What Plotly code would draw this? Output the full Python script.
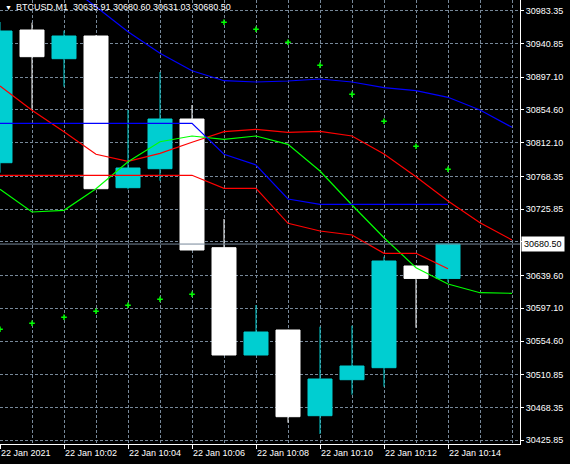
import plotly.graph_objects as go

# BTCUSD M1 bars, 22 Jan 2021 10:00 .. 10:14
times = ["10:00", "10:01", "10:02", "10:03", "10:04", "10:05", "10:06", "10:07",
         "10:08", "10:09", "10:10", "10:11", "10:12", "10:13", "10:14"]
opens = [30786.06, 30958.27, 30921.02, 30950.48, 30753.62, 30778.28, 30842.77, 30675.76,
         30536.52, 30568.96, 30457.75, 30504.46, 30520.04, 30652.01, 30635.91]
highs = [30968.65, 30967.74, 30957.36, 30951.50, 30854.45, 30903.77, 30860.94, 30713.00,
         30601.40, 30569.20, 30573.24, 30574.54, 30664.08, 30652.30, 30680.60]
lows = [30773.09, 30854.45, 30884.69, 30751.90, 30751.54, 30762.71, 30672.50, 30536.30,
        30536.30, 30448.66, 30434.00, 30485.00, 30495.38, 30571.94, 30631.03]
closes = [30956.97, 30923.62, 30950.48, 30752.32, 30779.19, 30842.77, 30672.77, 30536.52,
          30566.36, 30456.45, 30505.37, 30522.24, 30658.50, 30635.90, 30680.50]

# indicator buffers (17 points: shifted lines run 2 bars past the last candle)
ma_blue_slow = [31075.06, 31046.51, 31019.26, 30988.51, 30956.06, 30928.03, 30905.45, 30892.47,
                30890.79, 30892.09, 30894.68, 30890.79, 30883.39, 30879.50, 30870.93, 30854.45,
                30832.00]
ma_red_upper = [30885.60, 30854.06, 30826.29, 30796.97, 30787.88, 30798.26, 30812.54, 30826.29,
                30829.41, 30825.51, 30826.81, 30820.71, 30797.35, 30767.90, 30736.36, 30708.20,
                30685.75]
ma_green = [30751.54, 30722.09, 30724.29, 30752.19, 30787.36, 30813.32, 30820.71, 30816.43,
            30820.71, 30809.94, 30775.29, 30731.17, 30688.74, 30649.81, 30628.65, 30617.36,
            30616.58]
# 15 points
ma_blue_fast = [30837.19, 30837.19, 30837.19, 30837.19, 30837.19, 30837.19, 30837.19, 30796.97,
                30783.08, 30738.96, 30732.08, 30732.08, 30732.08, 30732.08, 30732.08]
ma_red_lower = [30769.71, 30769.71, 30769.71, 30769.71, 30769.71, 30769.71, 30769.71, 30752.84,
                30752.84, 30707.42, 30697.43, 30692.24, 30668.49, 30668.49, 30648.51]
sar = [30569.87, 30577.65, 30585.44, 30593.22, 30601.01, 30608.80, 30615.29, 30968.26,
       30959.18, 30942.31, 30912.46, 30874.83, 30839.79, 30807.35, 30777.50]

price_ticks = [30983.35, 30940.85, 30897.10, 30854.60, 30812.10, 30768.35, 30725.85, 30683.35,
               30639.60, 30597.10, 30554.60, 30510.85, 30468.35, 30425.85]
time_labels = ["22 Jan 2021", "22 Jan 10:02", "22 Jan 10:04", "22 Jan 10:06",
               "22 Jan 10:08", "22 Jan 10:10", "22 Jan 10:12", "22 Jan 10:14"]

last_close = closes[-1]
header = "BTCUSD,M1  %.2f %.2f %.2f %.2f" % (opens[-1], highs[-1], lows[-1], closes[-1])

FONT = "Liberation Sans, Arial, sans-serif"
FS = 9
GRID = "#778899"
TURQ = "#00CED1"

bars = list(range(len(opens)))
ext = list(range(len(ma_green)))

fig = go.Figure()

fig.add_trace(go.Candlestick(
    x=bars, open=opens, high=highs, low=lows, close=closes,
    increasing=dict(line=dict(color=TURQ, width=1), fillcolor=TURQ),
    decreasing=dict(line=dict(color="#FFFFFF", width=1), fillcolor="#FFFFFF"),
    whiskerwidth=0, hoverinfo="skip"
))

for vals, col in [(ma_blue_slow, "#0000FF"), (ma_red_upper, "#FF0000"), (ma_green, "#00FF00")]:
    fig.add_trace(go.Scatter(x=ext[:len(vals)], y=vals, mode="lines",
                             line=dict(color=col, width=1.2), hoverinfo="skip"))
for vals, col in [(ma_blue_fast, "#0000FF"), (ma_red_lower, "#FF0000")]:
    fig.add_trace(go.Scatter(x=bars, y=vals, mode="lines",
                             line=dict(color=col, width=1.2), hoverinfo="skip"))

# parabolic SAR dots
fig.add_trace(go.Scatter(
    x=bars, y=sar, mode="markers",
    marker=dict(symbol="cross-thin", size=4, line=dict(color="#00FF00", width=1.5)),
    hoverinfo="skip"
))

# bid line
fig.add_shape(type="line", xref="paper", x0=0, x1=1, y0=last_close, y1=last_close,
              line=dict(color=GRID, width=1))

tick_text = ["%.2f" % v for v in price_ticks]
tick_text[price_ticks.index(30683.35)] = ""  # hidden behind price label

fig.update_layout(
    width=570, height=464,
    margin=dict(l=0, r=50, t=0, b=20),
    paper_bgcolor="#000000", plot_bgcolor="#000000",
    showlegend=False, hovermode=False,
    boxgap=0.25, boxgroupgap=0,
    font=dict(family=FONT, size=FS, color="#FFFFFF"),
    xaxis=dict(
        range=[0, 16.25], rangeslider=dict(visible=False), automargin=False,
        tickvals=list(range(0, 15, 2)), ticktext=time_labels, tickangle=0,
        ticks="outside", ticklen=4, tickcolor="#FFFFFF",
        ticklabelposition="outside right",
        showline=True, linecolor="#FFFFFF", linewidth=1,
        showgrid=True, gridcolor=GRID, griddash="3px,2px", gridwidth=1,
        minor=dict(tickvals=list(range(17)), showgrid=True, gridcolor=GRID,
                   griddash="3px,2px", gridwidth=1, ticks=""),
        zeroline=False,
        tickfont=dict(family=FONT, size=FS, color="#FFFFFF"),
    ),
    yaxis=dict(
        side="right", range=[30421.03, 30997.2], automargin=False,
        tickvals=price_ticks, ticktext=tick_text,
        ticks="outside", ticklen=3, tickcolor="#FFFFFF", ticklabelstandoff=0,
        showline=True, linecolor="#FFFFFF", linewidth=1,
        showgrid=True, gridcolor=GRID, griddash="3px,2px", gridwidth=1,
        zeroline=False,
        tickfont=dict(family=FONT, size=FS, color="#FFFFFF"),
    ),
    annotations=[
        dict(x=0, y=1, xref="paper", yref="paper", xanchor="left", yanchor="top",
             xshift=3, yshift=-2, showarrow=False, text="\u25BC",
             font=dict(family=FONT, size=7, color="#FFFFFF")),
        dict(x=0, y=1, xref="paper", yref="paper", xanchor="left", yanchor="top",
             xshift=14, yshift=0, showarrow=False, text=header,
             font=dict(family=FONT, size=FS, color="#FFFFFF")),
        dict(x=1, y=last_close, xref="paper", yref="y", xanchor="left", yanchor="middle",
             xshift=1, showarrow=False, text="%.2f" % last_close, bgcolor="#FFFFFF",
             borderpad=2, font=dict(family=FONT, size=FS, color="#000000")),
    ],
)

fig.write_html("out.html", config={"displayModeBar": False},
               post_script="document.body.style.margin='0px';document.body.style.overflow='hidden';")
